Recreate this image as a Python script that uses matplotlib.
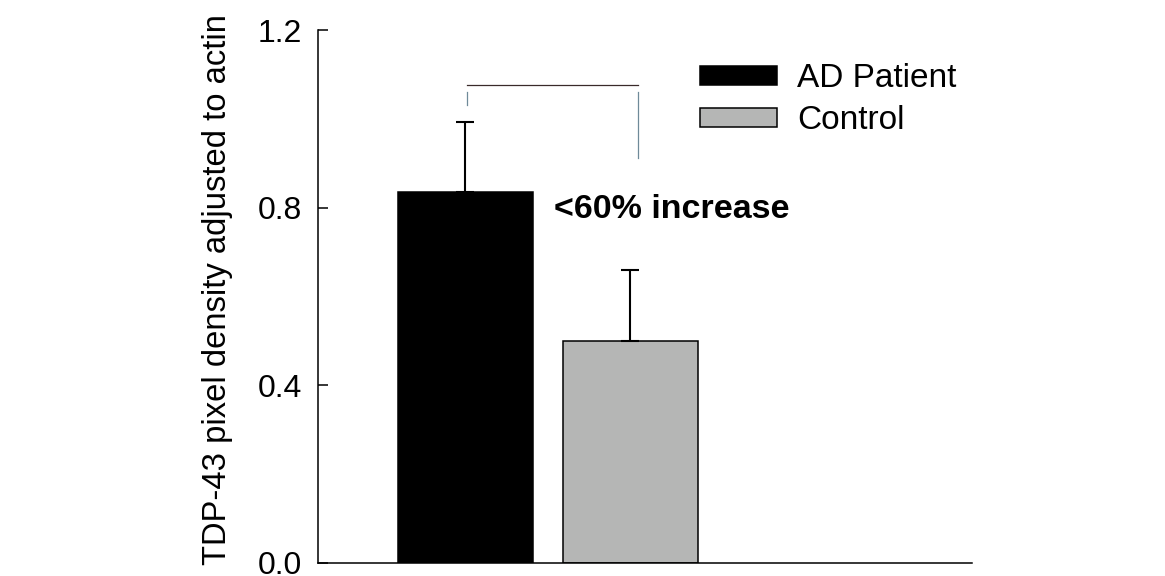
import numpy as np
import matplotlib
matplotlib.use("Agg")
import matplotlib.pyplot as plt

plt.rcParams['font.family'] = ['Liberation Sans', 'DejaVu Sans']

# ------------------------- data --------------------------------
groups = ['AD Patient', 'Control']
means = [0.835, 0.50]
errors = [0.158, 0.16]
colours = ['black', '#b5b6b5']
positions = np.array([1, 2])

fig = plt.figure(figsize=(11.65, 5.76), dpi=100)
ax = fig.add_axes([0.273, 0.0226, 0.561, 0.925])

for pos, m, e, col, name in zip(positions, means, errors, colours, groups):
    ax.bar(pos, m, width=0.82, color=col, edgecolor='black', linewidth=1.1, label=name)
    # upper error bar only
    ax.errorbar(pos, m, yerr=[[0], [e]], fmt='none', ecolor='black',
                elinewidth=1.5, capsize=6.5, capthick=1.5)

# comparison bracket between the two groups
ax.plot([1.01, 2.045], [1.076, 1.076], color='#3a2a2a', linewidth=0.9)
ax.plot([1.01, 1.01], [1.060, 1.031], color='#6f8a99', linewidth=0.9)
ax.plot([2.045, 2.045], [1.060, 0.912], color='#6f8a99', linewidth=0.9)
ax.text(1.54, 0.797, '<60% increase', fontsize=24.5, fontweight='bold',
        ha='left', va='center')

ax.set_xlim(0.106, 4.07)
ax.set_ylim(0, 1.2)
ax.set_yticks([0.0, 0.4, 0.8, 1.2])
ax.set_yticklabels(['0.0', '0.4', '0.8', '1.2'])
ax.set_xticks([])
ax.tick_params(axis='y', direction='in', length=7.2, width=1.1, pad=11.5, labelsize=23)
for side in ['top', 'right']:
    ax.spines[side].set_visible(False)
for side in ['left', 'bottom']:
    ax.spines[side].set_linewidth(1.1)

ax.set_ylabel('TDP-43 pixel density adjusted to actin', fontsize=23.6)
ax.yaxis.set_label_coords(-0.13, 0.514)

leg = ax.legend(loc='upper left', bbox_to_anchor=(0.601, 0.890),
                bbox_transform=fig.transFigure, frameon=False, fontsize=24,
                handlelength=2.3, handleheight=0.5, handletextpad=0.6,
                labelspacing=0.32, borderpad=0, borderaxespad=0)

fig.savefig('out.png', dpi=100)
